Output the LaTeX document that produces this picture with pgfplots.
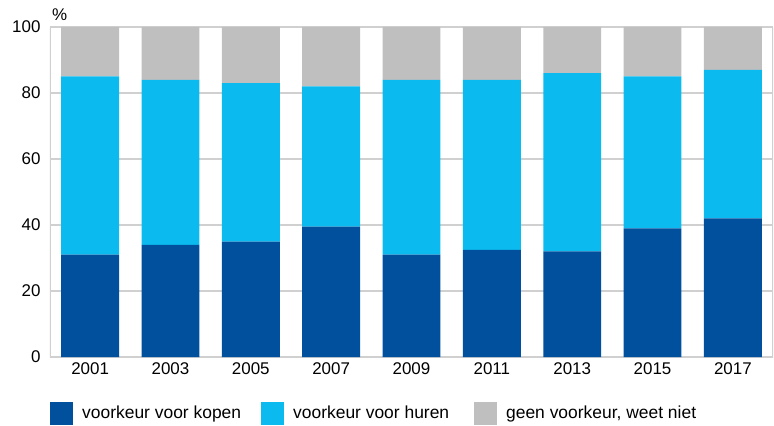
\documentclass[border=0pt]{standalone}
\usepackage{pgfplots}
\pgfplotsset{compat=1.18}
\usepackage{fontspec}
\setmainfont{Liberation Sans}
\definecolor{kopen}{HTML}{00509E}
\definecolor{huren}{HTML}{0BBAEE}
\definecolor{geen}{HTML}{BFBFBF}
\definecolor{gridc}{HTML}{D0D0D0}
\begin{document}
\begin{tikzpicture}
\begin{axis}[
  name=ax,
  scale only axis,
  width=723bp, height=330bp,
  ybar stacked,
  bar width=0.72,
  xmin=-0.5, xmax=8.5,
  ymin=0, ymax=100,
  xtick={0,...,8},
  xticklabels={2001,2003,2005,2007,2009,2011,2013,2015,2017},
  ytick={0,20,40,60,80,100},
  ymajorgrids,
  grid style={gridc, line width=1.2pt},
  axis line style={draw=none},
  major tick length=0pt,
  font=\fontsize{17}{20}\selectfont,
  /pgf/number format/assume math mode=true,
  xticklabel style={yshift=-2bp},
  yticklabel style={xshift=-6bp},
  legend style={at={(0,-0.136)}, anchor=north west, draw=none, legend columns=3,
    /tikz/every even column/.append style={column sep=0bp},
    inner sep=0pt, font=\fontsize{17.5}{20}\selectfont},
  legend cell align=left,
  legend image code/.code={\fill[#1] (-7bp,-12bp) rectangle (16bp,11bp);},
]
\addplot+[fill=kopen, draw=none] coordinates {(0,31) (1,34) (2,35) (3,39.5) (4,31) (5,32.5) (6,32) (7,39) (8,42)};
\addplot+[fill=huren, draw=none] coordinates {(0,54) (1,50) (2,48) (3,42.5) (4,53) (5,51.5) (6,54) (7,46) (8,45)};
\addplot+[fill=geen, draw=none] coordinates {(0,15) (1,16) (2,17) (3,18) (4,16) (5,16) (6,14) (7,15) (8,13)};
\legend{\makebox[184bp][l]{\hspace{7bp}voorkeur voor kopen},\makebox[186bp][l]{\hspace{7bp}voorkeur voor huren},{\hspace{7bp}geen voorkeur, weet niet}}
\draw[gridc, line width=1.2pt] (rel axis cs:0,1) -- (rel axis cs:0,0) -- (rel axis cs:1,0) -- (rel axis cs:1,1);
\end{axis}
\node[anchor=south west, inner sep=0pt, font=\fontsize{17}{20}\selectfont] at ([xshift=2bp, yshift=6bp]ax.north west) {\%};
\path (ax.south west) ++(-50bp,-68bp);
\path (ax.north east) ++(1bp,27bp);
\end{tikzpicture}
\end{document}
